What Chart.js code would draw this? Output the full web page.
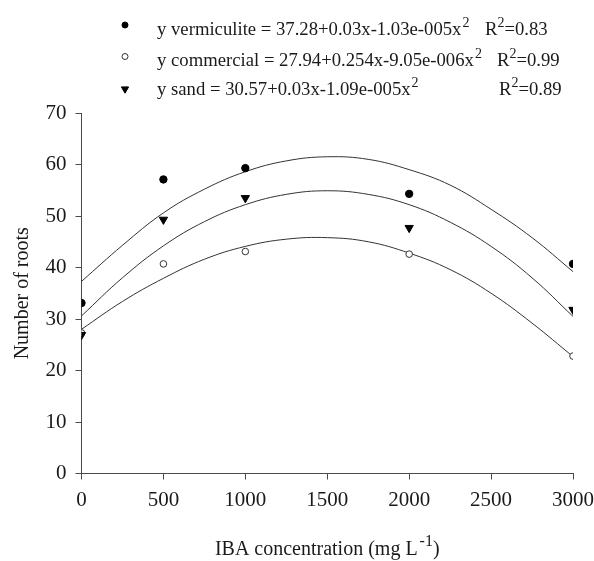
<!DOCTYPE html>
<html><head><meta charset="utf-8">
<script src="https://cdn.jsdelivr.net/npm/chart.js@4/dist/chart.umd.min.js"></script>
<style>html,body{margin:0;padding:0;background:#fff}#wrap{width:594px;height:561px;position:relative}</style>
</head><body><div id="wrap"><canvas id="c"></canvas></div>
<script>
// ---- data ----
const concentrations = [0, 500, 1000, 2000, 3000];
const vermiculite = [33.1, 57.1, 59.3, 54.3, 40.7];
const commercial = [27.3, 40.7, 43.1, 42.6, 22.8];
const sand = [26.9, 49.3, 53.5, 47.7, 31.8];

const curveX = [0, 250, 500, 750, 1000, 1250, 1500, 1750, 2000, 2250, 2500, 2750, 3000];
const vermiculiteFit = [37.3, 44.3, 50.6, 55.2, 58.6, 60.7, 61.5, 61.0, 59.0, 56.0, 51.3, 45.8, 39.2];
const commercialFit = [28.0, 33.4, 37.9, 41.6, 44.1, 45.5, 45.8, 45.0, 42.8, 39.6, 35.0, 29.2, 22.7];
const sandFit = [30.6, 38.0, 44.2, 48.9, 52.2, 54.2, 54.9, 54.2, 52.2, 48.8, 44.1, 38.0, 30.5];

const xTicks = [0, 500, 1000, 1500, 2000, 2500, 3000];
const yTicks = [0, 10, 20, 30, 40, 50, 60, 70];

const legendEquations = [
  'y vermiculite = 37.28+0.03x-1.03e-005x',
  'y commercial = 27.94+0.254x-9.05e-006x',
  'y sand = 30.57+0.03x-1.09e-005x'
];
const legendR2 = ['=0.83', '=0.99', '=0.89'];
const xTitleMain = 'IBA concentration (mg L';
const xTitleSup = '-1';
const xTitleEnd = ')';
const yTitle = 'Number of roots';

// ---- build ----
const pts = (xs, ys) => xs.map((x, i) => ({x: x, y: ys[i]}));
const FONT = '"Liberation Serif", "Times New Roman", serif';
const INK = '#1a1a1a';
const AXIS = '#4a4a4a';

const markerStyles = [
  {pointStyle: 'circle', radius: 3.7, rotation: 0, bg: '#000', border: '#000'},
  {pointStyle: 'circle', radius: 3.3, rotation: 0, bg: '#fff', border: '#333'},
  {pointStyle: 'triangle', radius: 4.8, rotation: 180, bg: '#000', border: '#000'}
];

const fitLine = (data) => ({
  type: 'scatter', data: data, showLine: true, tension: 0.4, order: 5,
  borderColor: '#333', borderWidth: 1, pointRadius: 0, pointHoverRadius: 0, fill: false
});
const markerSet = (data, m, order) => ({
  type: 'scatter', data: data, showLine: false, order: order,
  pointStyle: m.pointStyle, pointRadius: m.radius, pointRotation: m.rotation,
  pointBackgroundColor: m.bg, pointBorderColor: m.border, pointBorderWidth: 1
});

const legendPlugin = {
  id: 'eqLegend',
  afterDraw(chart) {
    const ctx = chart.ctx;
    const base = [35, 65.5, 95];
    const mk = [25, 56.5, 89];
    const r2x = [485, 497, 499];
    const FS = 18.7, SS = 14;
    ctx.save();
    ctx.textBaseline = 'alphabetic';
    ctx.textAlign = 'left';
    legendEquations.forEach((t, i) => {
      const m = markerStyles[i];
      ctx.fillStyle = m.bg; ctx.strokeStyle = m.border; ctx.lineWidth = 1;
      Chart.helpers.drawPoint(ctx, {pointStyle: m.pointStyle, radius: i === 2 ? 4.2 : 3, rotation: m.rotation, borderWidth: 1}, 125, mk[i]);
      ctx.fillStyle = INK;
      ctx.font = FS + 'px ' + FONT;
      ctx.fillText(t, 157, base[i]);
      const w = ctx.measureText(t).width;
      ctx.font = SS + 'px ' + FONT;
      ctx.fillText('2', 157 + w + 1, base[i] - 8);
      ctx.font = FS + 'px ' + FONT;
      ctx.fillText('R', r2x[i], base[i]);
      const rw = ctx.measureText('R').width;
      ctx.font = SS + 'px ' + FONT;
      ctx.fillText('2', r2x[i] + rw, base[i] - 8);
      const sw = ctx.measureText('2').width;
      ctx.font = FS + 'px ' + FONT;
      ctx.fillText(legendR2[i], r2x[i] + rw + sw, base[i]);
    });

    // x-axis title with a real superscript
    const area = chart.chartArea;
    const cx = (area.left + area.right) / 2;
    const by = 555;
    ctx.font = '20px ' + FONT;
    const w1 = ctx.measureText(xTitleMain).width;
    const w3 = ctx.measureText(xTitleEnd).width;
    ctx.font = '16px ' + FONT;
    const w2 = ctx.measureText(xTitleSup).width + 2;
    let x0 = cx - (w1 + w2 + w3) / 2;
    ctx.fillStyle = INK;
    ctx.font = '20px ' + FONT;
    ctx.fillText(xTitleMain, x0, by);
    ctx.font = '16px ' + FONT;
    ctx.fillText(xTitleSup, x0 + w1 + 2, by - 9);
    ctx.font = '20px ' + FONT;
    ctx.fillText(xTitleEnd, x0 + w1 + w2, by);
    ctx.restore();
  }
};

new Chart(document.getElementById('c'), {
  type: 'scatter',
  data: {
    datasets: [
      fitLine(pts(curveX, vermiculiteFit)),
      fitLine(pts(curveX, commercialFit)),
      fitLine(pts(curveX, sandFit)),
      markerSet(pts(concentrations, commercial), markerStyles[1], 3),
      markerSet(pts(concentrations, vermiculite), markerStyles[0], 2),
      markerSet(pts(concentrations, sand), markerStyles[2], 1)
    ]
  },
  options: {
    responsive: true, maintainAspectRatio: false, animation: false,
    layout: {padding: {top: 113, left: 0, right: 21, bottom: 0}},
    plugins: {legend: {display: false}, tooltip: {enabled: false}},
    scales: {
      x: {
        type: 'linear', min: 0, max: 3000,
        afterBuildTicks: (s) => { s.ticks = xTicks.map(v => ({value: v})); },
        afterFit: (s) => { s.height = 87.5; s.paddingRight = 0; s.paddingLeft = 0; },
        grid: {drawOnChartArea: false, drawTicks: true, tickLength: 6, color: AXIS, lineWidth: 1},
        border: {display: true, color: AXIS, width: 1},
        ticks: {color: INK, font: {family: FONT, size: 21}, padding: 8, maxRotation: 0, autoSkip: false,
                callback: (v) => String(v)},
        title: {display: false}
      },
      y: {
        type: 'linear', min: 0, max: 70,
        afterBuildTicks: (s) => { s.ticks = yTicks.map(v => ({value: v})); },
        afterFit: (s) => { s.width = 81.5; s.paddingTop = 0; s.paddingBottom = 0; },
        grid: {drawOnChartArea: false, drawTicks: true, tickLength: 6, color: AXIS, lineWidth: 1},
        border: {display: true, color: AXIS, width: 1},
        ticks: {color: INK, font: {family: FONT, size: 21}, padding: 9, autoSkip: false,
                callback: (v) => String(v)},
        title: {display: true, text: yTitle, color: INK, font: {family: FONT, size: 20}, padding: {top: 11, bottom: 0}}
      }
    }
  },
  plugins: [legendPlugin]
});
</script>
</body></html>
